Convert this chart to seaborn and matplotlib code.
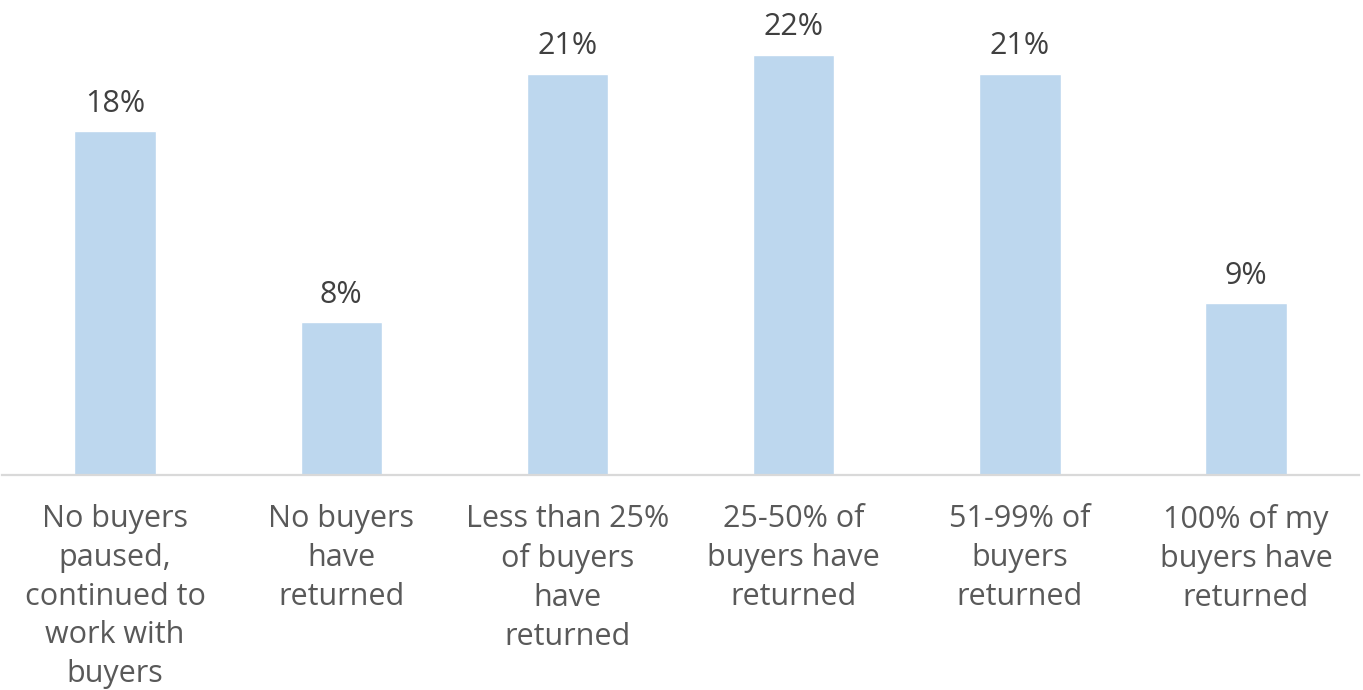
import matplotlib
matplotlib.use("Agg")
import pandas as pd
import matplotlib.pyplot as plt
import seaborn as sns

categories = [
    "No buyers\npaused,\ncontinued to\nwork with\nbuyers",
    "No buyers\nhave\nreturned",
    "Less than 25%\nof buyers\nhave\nreturned",
    "25-50% of\nbuyers have\nreturned",
    "51-99% of\nbuyers\nreturned",
    "100% of my\nbuyers have\nreturned",
]
values = [18, 8, 21, 22, 21, 9]

df = pd.DataFrame({"category": categories, "pct": values})

sns.set_theme(style="white")
plt.rcParams["font.family"] = ["Open Sans", "DejaVu Sans"]

fig = plt.figure(figsize=(13.63, 6.90), dpi=100)
ax = fig.add_axes([0.0015, 0.3116, 0.9956, 0.6884])

sns.barplot(data=df, x="category", y="pct", color="#BDD7EE", width=0.36,
            saturation=1, ax=ax)

ax.set_ylim(0, 24.87)
ax.set_xlim(-0.5, len(categories) - 0.5)
for s in ["top", "right", "left"]:
    ax.spines[s].set_visible(False)
ax.spines["bottom"].set_color("#D9D9D9")
ax.spines["bottom"].set_linewidth(1.6)
ax.set_yticks([])
ax.set_xlabel("")
ax.set_ylabel("")
ax.tick_params(axis="x", length=0, pad=21, labelsize=22, labelcolor="#595959")
for lab in ax.get_xticklabels():
    lab.set_linespacing(1.38)

for i, v in enumerate(values):
    ax.text(i, v + 0.65, f"{v}%", ha="center", va="bottom", fontsize=22,
            color="#404040")

fig.savefig("out.png", dpi=100)
